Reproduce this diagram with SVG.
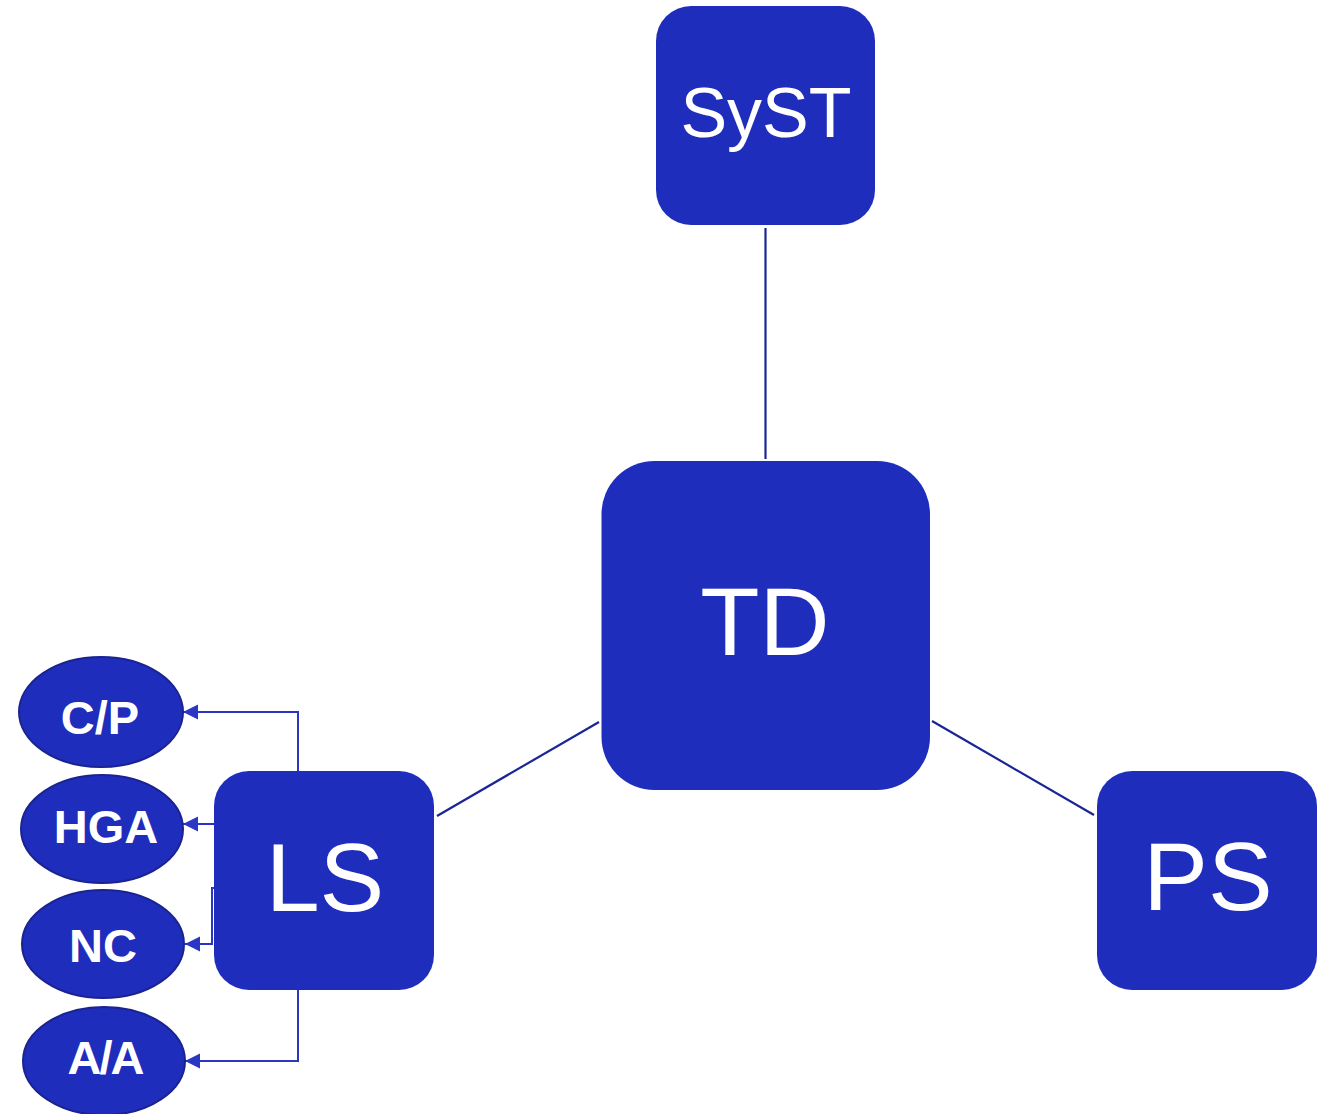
<svg xmlns="http://www.w3.org/2000/svg" width="1330" height="1114" viewBox="0 0 1330 1114">
<style>
.box{fill:#1f2dbd;}
.ell{fill:#1f2dbd;stroke:#1a2390;stroke-width:2;}
.big{fill:#fff;font-family:"Liberation Sans",Arial,sans-serif;text-anchor:middle;}
.small{fill:#fff;font-family:"Liberation Sans",Arial,sans-serif;font-weight:bold;font-size:47px;text-anchor:middle;}
.main{stroke:#1a2696;stroke-width:2.2;fill:none;}
.sub{stroke:#2b36c4;stroke-width:2;fill:none;}
</style>
<defs>
<marker id="arr" markerUnits="userSpaceOnUse" markerWidth="16" markerHeight="16" refX="15" refY="7.5" orient="auto">
<path d="M0,0 L15,7.5 L0,15 z" fill="#2b36c4"/>
</marker>
</defs>
<rect width="1330" height="1114" fill="#fff"/>
<g id="connectors">
<line class="main" x1="765.5" y1="228" x2="765.5" y2="459"/>
<line class="main" x1="599" y1="722" x2="437" y2="816"/>
<line class="main" x1="932" y1="721" x2="1094" y2="815"/>
<polyline class="sub" points="298,772 298,712 183,712" marker-end="url(#arr)"/>
<polyline class="sub" points="216,824 183,824" marker-end="url(#arr)"/>
<polyline class="sub" points="216,888 212,888 212,944 185,944" marker-end="url(#arr)"/>
<polyline class="sub" points="298,988 298,1061 185,1061" marker-end="url(#arr)"/>
</g>
<g id="SyST">
<rect class="box" x="656" y="6" width="219" height="219" rx="35"/>
<text class="big" x="766" y="137" font-size="70">SyST</text>
</g>
<g id="TD">
<rect class="box" x="601.5" y="461" width="328.5" height="329" rx="53"/>
<text class="big" x="765" y="655" font-size="97">TD</text>
</g>
<g id="LS">
<rect class="box" x="214" y="771" width="220" height="219" rx="35"/>
<text class="big" x="325" y="911" font-size="97">LS</text>
</g>
<g id="PS">
<rect class="box" x="1097" y="771" width="220" height="219" rx="35"/>
<text class="big" x="1208" y="910" font-size="97">PS</text>
</g>
<g id="CP">
<ellipse class="ell" cx="101" cy="712" rx="82" ry="55"/>
<text class="small" x="100" y="734">C/P</text>
</g>
<g id="HGA">
<ellipse class="ell" cx="102" cy="829" rx="81" ry="54"/>
<text class="small" x="106" y="843">HGA</text>
</g>
<g id="NC">
<ellipse class="ell" cx="103" cy="944" rx="81" ry="54"/>
<text class="small" x="103" y="962">NC</text>
</g>
<g id="AA">
<ellipse class="ell" cx="104" cy="1061" rx="81" ry="54"/>
<text class="small" x="105" y="1074" letter-spacing="-2">A/A</text>
</g>
</svg>
